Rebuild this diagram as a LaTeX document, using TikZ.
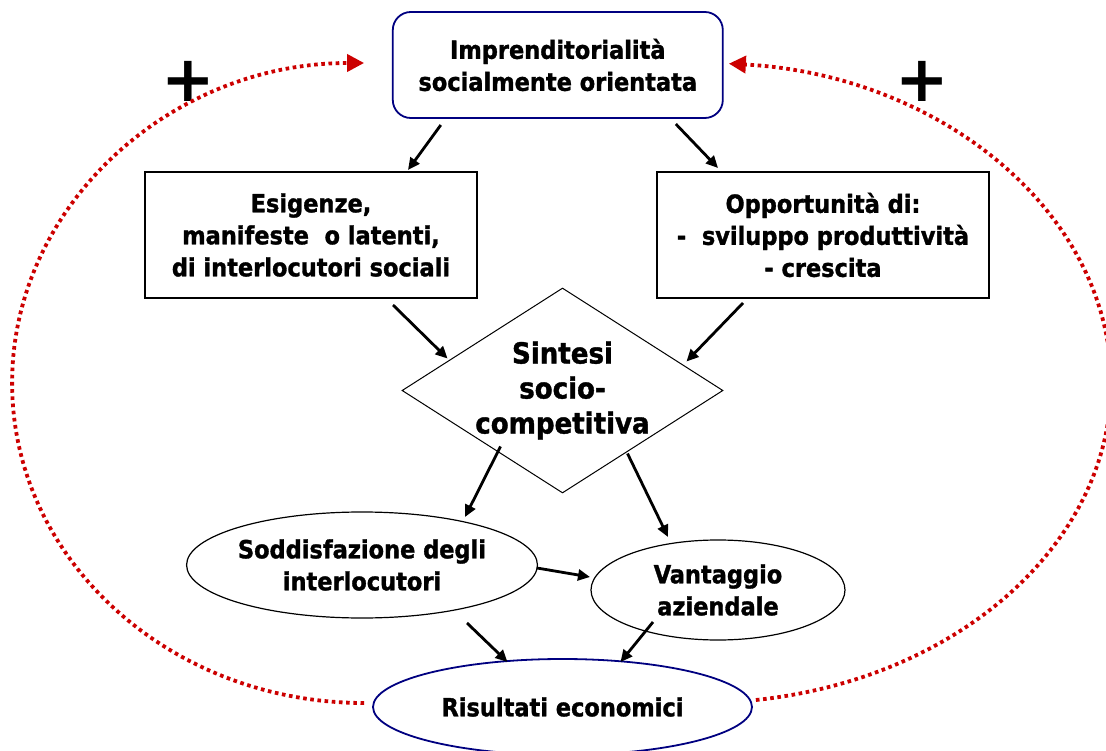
\documentclass[tikz,border=0pt]{standalone}
\usepackage{fontspec}
\newfontfamily\dvb[FakeBold=1.3]{DejaVu Sans Condensed Bold}
\newfontfamily\dvplus{DejaVu Sans Bold}
\usetikzlibrary{shapes.geometric,arrows.meta,calc}
\definecolor{navyb}{RGB}{0,0,128}
\definecolor{dotred}{RGB}{204,0,0}
\begin{document}
\begin{tikzpicture}[x=1pt,y=1pt,
  txt/.style={font=\dvb\fontsize{25}{32}\selectfont, align=center, text=black},
  dtxt/.style={font=\dvb\fontsize{29}{35}\selectfont, align=center, text=black},
  rbox/.style={draw=black, line width=1.2pt, fill=white, inner sep=0pt, txt},
  tbox/.style={draw=navyb, line width=1.8pt, rounded corners=18pt, fill=white, inner sep=0pt, txt},
  oval/.style={ellipse, draw=black, line width=1.2pt, fill=white, inner sep=0pt, txt},
  roval/.style={ellipse, draw=navyb, line width=1.8pt, fill=white, inner sep=0pt, txt},
  arr/.style={line width=2.8pt, -{Triangle[length=12pt,width=11pt]}},
  loopline/.style={draw=dotred, line width=3.8pt, dash pattern=on 3.6pt off 3.6pt, -{Triangle[length=17pt,width=17pt]}},
  plus/.style={font=\dvplus\fontsize{64}{64}\selectfont, inner sep=0pt}
]
\useasboundingbox (0,0) rectangle (1106,-751);

\node[tbox, minimum width=330, minimum height=106] (top) at (557.8,-65) {Imprenditorialità\\socialmente orientata};
\node[rbox, minimum width=332, minimum height=126] (left) at (311,-235) {Esigenze,\\manifeste~~o latenti,\\di interlocutori sociali};
\node[rbox, minimum width=332, minimum height=126] (right) at (823,-235) {Opportunità di:\\-~~sviluppo produttività\\- crescita};
\node[diamond, draw=black, line width=1pt, fill=white, minimum width=321, minimum height=205, inner sep=0pt, aspect=1.566,
      label={[dtxt]center:Sintesi\\socio-\\competitiva}] (diam) at (562.5,-390.5) {};
\node[oval, minimum width=350, minimum height=106] (sodd) at (362,-565) {Soddisfazione degli\\interlocutori};
\node[oval, minimum width=254, minimum height=100] (vant) at (718,-590) {Vantaggio\\aziendale};
\node[roval, minimum width=379, minimum height=96] (res) at (562.5,-707) {Risultati economici};

\node[plus] (pl) at (188,-81) {+};
\node[plus] (pr) at (922,-81) {+};

\draw[arr] ($(top)+(-117,-60)$) -- ($(left)+(97,65)$);
\draw[arr] ($(top)+(118,-59)$) -- ($(right)+(-105,67)$);
\draw[arr] ($(left)+(82,-70)$) -- ($(diam)+(-115,32)$);
\draw[arr] ($(right)+(-80,-68)$) -- ($(diam)+(124,29)$);
\draw[arr] ($(diam)+(-62,-56)$) -- ($(sodd)+(103,48)$);
\draw[arr] ($(diam)+(65,-63)$) -- ($(vant)+(-50,53)$);
\draw[arr] ($(sodd)+(175,-3)$) -- ($(vant)+(-128,13)$);
\draw[arr] ($(sodd)+(105,-58)$) -- ($(res)+(-55,45)$);
\draw[arr] ($(vant)+(-65,-32)$) -- ($(res)+(58,45)$);

\draw[loopline] ([shift={(-8,4)}]res.west) arc[start angle=270, end angle=90, x radius=352, y radius=320];
\draw[loopline] ([shift={(3,7)}]res.east) arc[start angle=-82.3, end angle=86.1, x radius=410, y radius=320];
\end{tikzpicture}
\end{document}
